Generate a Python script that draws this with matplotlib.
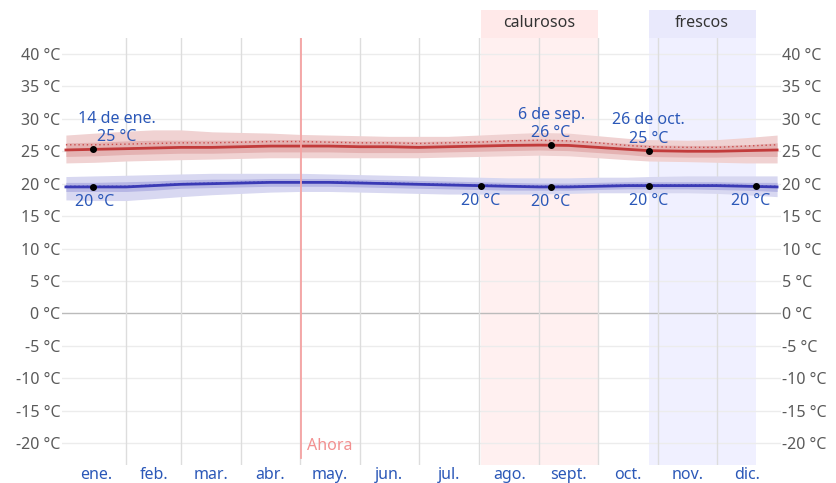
import numpy as np
import matplotlib.pyplot as plt
from matplotlib.transforms import blended_transform_factory
from matplotlib.patches import Rectangle

plt.rcParams['font.family'] = ['Noto Sans', 'DejaVu Sans']

# day of year for the readings
days = [0, 15, 31, 45, 59, 75, 90, 105, 120, 135, 151, 166, 181, 196, 212,
        227, 243, 258, 273, 288, 299, 319, 334, 349, 365]

# daily high (red) and low (blue), degrees C
high = [25.2, 25.3, 25.4, 25.5, 25.6, 25.6, 25.7, 25.8, 25.8, 25.8, 25.7, 25.7, 25.6,
        25.7, 25.8, 25.9, 25.95, 25.9, 25.6, 25.3, 25.1, 25.0, 25.0, 25.1, 25.2]
high_p10 = [23.2, 23.3, 23.5, 23.6, 23.7, 23.8, 23.9, 24.0, 24.0, 24.0, 24.0, 24.0, 24.0,
            24.1, 24.2, 24.3, 24.4, 24.3, 24.0, 23.7, 23.5, 23.4, 23.3, 23.2, 23.2]
high_p90 = [27.5, 27.8, 28.1, 28.3, 28.3, 28.0, 27.9, 27.8, 27.6, 27.5, 27.4, 27.3, 27.3,
            27.3, 27.5, 27.7, 27.9, 27.8, 27.4, 27.0, 26.8, 26.7, 26.8, 27.1, 27.5]
high_p25 = [24.2, 24.3, 24.5, 24.6, 24.7, 24.7, 24.8, 24.9, 24.9, 24.9, 24.8, 24.8, 24.8,
            24.9, 25.0, 25.1, 25.2, 25.1, 24.8, 24.5, 24.2, 24.1, 24.1, 24.2, 24.2]
high_p75 = [26.3, 26.4, 26.6, 26.7, 26.7, 26.7, 26.7, 26.8, 26.8, 26.7, 26.6, 26.6, 26.5,
            26.6, 26.7, 26.8, 26.9, 26.8, 26.5, 26.2, 26.0, 25.9, 25.9, 26.0, 26.3]
high_feel = [26.0, 26.0, 26.1, 26.2, 26.3, 26.3, 26.4, 26.5, 26.5, 26.4, 26.3, 26.3, 26.2,
             26.3, 26.4, 26.6, 26.7, 26.6, 26.3, 25.9, 25.7, 25.6, 25.6, 25.8, 26.0]

low = [19.5, 19.5, 19.5, 19.7, 19.9, 20.0, 20.1, 20.2, 20.2, 20.2, 20.1, 20.0, 19.9,
       19.8, 19.7, 19.6, 19.5, 19.5, 19.6, 19.7, 19.7, 19.7, 19.7, 19.6, 19.5]
low_p10 = [17.5, 17.4, 17.4, 17.7, 18.0, 18.3, 18.5, 18.7, 18.8, 18.8, 18.7, 18.6, 18.5,
           18.4, 18.4, 18.4, 18.4, 18.5, 18.6, 18.6, 18.6, 18.6, 18.5, 18.3, 18.0]
low_p90 = [21.1, 21.2, 21.3, 21.4, 21.5, 21.6, 21.6, 21.6, 21.6, 21.5, 21.4, 21.3, 21.2,
           21.1, 21.0, 20.9, 20.9, 20.9, 21.0, 21.0, 21.1, 21.2, 21.2, 21.2, 21.2]
low_p25 = [18.8, 18.8, 18.8, 19.0, 19.3, 19.4, 19.5, 19.6, 19.6, 19.6, 19.5, 19.4, 19.3,
           19.2, 19.1, 19.0, 19.0, 19.0, 19.1, 19.2, 19.2, 19.2, 19.1, 19.0, 18.8]
low_p75 = [20.2, 20.2, 20.3, 20.4, 20.6, 20.7, 20.7, 20.8, 20.8, 20.8, 20.7, 20.6, 20.5,
           20.4, 20.3, 20.2, 20.1, 20.1, 20.2, 20.3, 20.3, 20.3, 20.3, 20.2, 20.2]
low_feel = [19.6, 19.6, 19.6, 19.8, 20.0, 20.1, 20.2, 20.3, 20.3, 20.3, 20.2, 20.1, 20.0,
            19.9, 19.8, 19.7, 19.6, 19.6, 19.7, 19.8, 19.8, 19.8, 19.8, 19.7, 19.6]

month_starts = [0, 31, 59, 90, 120, 151, 181, 212, 243, 273, 304, 334, 365]
month_names = ['ene.', 'feb.', 'mar.', 'abr.', 'may.', 'jun.', 'jul.', 'ago.',
               'sept.', 'oct.', 'nov.', 'dic.']

hot_season = (213, 273)
cool_season = (299, 354)
now_day = 120.5

# marked points: (day, value, date label, x shift in px)
high_marks = [(14, 25.3, '14 de ene.', 24), (249, 25.95, '6 de sep.', 0),
              (299, 25.1, '26 de oct.', 0)]
low_marks = [(14, 19.5, 1), (213, 19.7, 0), (249, 19.5, 0), (299, 19.7, 0), (354, 19.7, -5)]

label_blue = '#2b58b8'
tick_gray = '#5a5a5a'

fig = plt.figure(figsize=(8.36, 4.83), dpi=100)
ax = fig.add_axes([62 / 836, 18 / 483, 719 / 836, 427 / 483])
ax.set_xlim(-2, 367)
ax.set_ylim(-23.39, 42.47)

# seasons
trans = blended_transform_factory(ax.transData, ax.transAxes)
for (a, b), fc, hc, name in [(hot_season, '#fff0f0', '#ffe9e9', 'calurosos'),
                              (cool_season, '#f0f0ff', '#e9e9fc', 'frescos')]:
    ax.axvspan(a, b, color=fc, zorder=0, lw=0)
    ax.add_patch(Rectangle((a, 1.0), b - a, 0.066, transform=trans, color=hc,
                           clip_on=False, lw=0, zorder=0))
    ax.text((a + b) / 2, 1.035, name, transform=trans, ha='center', va='center',
            fontsize=11.5, color='#333333')

# grid
for y in range(-20, 45, 5):
    ax.axhline(y, color='#bbbbbb' if y == 0 else '#ececec', lw=1, zorder=1)
for m in month_starts[1:-1]:
    ax.axvline(m, color='#dddddd', lw=1, zorder=1)

# bands and lines
ax.fill_between(days, high_p10, high_p90, color='#f0d2d2', lw=0, zorder=2)
ax.fill_between(days, high_p25, high_p75, color='#e4b2b2', lw=0, zorder=2)
ax.plot(days, high_feel, color='#c94d4d', lw=1, ls=(0, (1, 2)), zorder=3)
ax.plot(days, high, color='#c23b3b', lw=2, zorder=3)

ax.fill_between(days, low_p10, low_p90, color='#d8d8f1', lw=0, zorder=2)
ax.fill_between(days, low_p25, low_p75, color='#b6b6e4', lw=0, zorder=2)
ax.plot(days, low_feel, color='#4a4ac0', lw=1, ls=(0, (1, 2)), zorder=3)
ax.plot(days, low, color='#3a3ab5', lw=2, zorder=3)

# now line
ax.plot([now_day, now_day], [-22.3, 42.47], color='#f5a3a3', lw=1.3, zorder=4)
ax.text(now_day + 3, -20.5, 'Ahora', color='#f29090', fontsize=11.5, va='center',
        ha='left', zorder=5)

# marks
for d, v, lab, dx in high_marks:
    ax.plot(d, v, 'o', color='black', ms=4, zorder=6)
    ax.annotate(f'{lab}\n{round(v):d} °C', (d, v), xytext=(dx, 4),
                textcoords='offset pixels', ha='center', va='bottom',
                color=label_blue, fontsize=11.5, linespacing=1.2, zorder=6)
for d, v, dx in low_marks:
    ax.plot(d, v, 'o', color='black', ms=4, zorder=6)
    ax.annotate(f'{round(v):d} °C', (d, v), xytext=(dx, -7),
                textcoords='offset pixels', ha='center', va='top',
                color=label_blue, fontsize=11.5, zorder=6)

# axes
yt = list(range(-20, 45, 5))
ax.set_yticks(yt)
ax.set_yticklabels([f'{t} °C' for t in yt])
ax.tick_params(axis='y', length=0, pad=1, labelsize=11.5, labelcolor=tick_gray,
               labelright=True)
ax.set_xticks([(month_starts[i] + month_starts[i + 1]) / 2 for i in range(12)])
ax.set_xticklabels(month_names)
ax.tick_params(axis='x', length=0, pad=1.5, labelsize=11.5, labelcolor=label_blue)
for s in ax.spines.values():
    s.set_visible(False)

fig.savefig('out.png', dpi=100)
